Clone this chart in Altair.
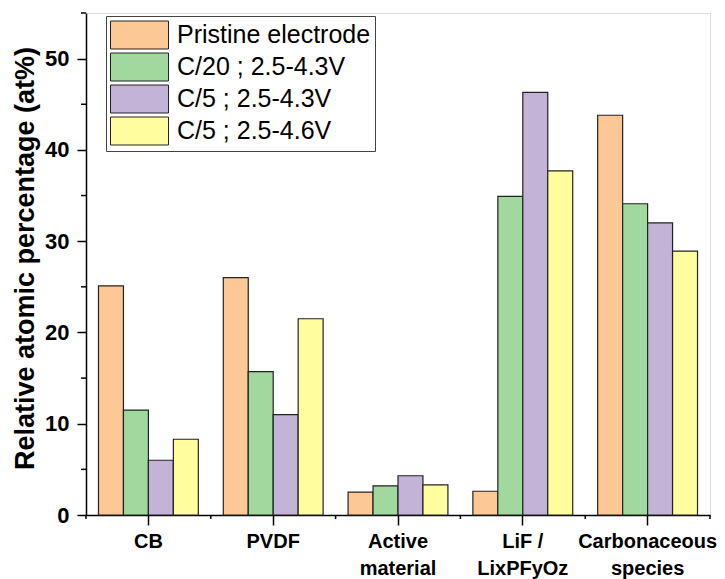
import altair as alt
import pandas as pd

categories = ["CB", "PVDF", "Active\nmaterial", "LiF /\nLixPFyOz", "Carbonaceous\nspecies"]
series = ["Pristine electrode", "C/20 ; 2.5-4.3V", "C/5 ; 2.5-4.3V", "C/5 ; 2.5-4.6V"]
pristine = [25.1, 26.0, 2.5, 2.6, 43.8]
c20_43 = [11.5, 15.7, 3.2, 34.9, 34.1]
c5_43 = [6.0, 11.0, 4.3, 46.3, 32.0]
c5_46 = [8.3, 21.5, 3.3, 37.7, 28.9]
colors = ["#FCC896", "#A0D89E", "#C3B3D7", "#FFFD9E"]
y_major = [0, 10, 20, 30, 40, 50]
y_minor = [5, 15, 25, 35, 45, 55]

rows = []
for s, vals in zip(series, [pristine, c20_43, c5_43, c5_46]):
    for c, v in zip(categories, vals):
        rows.append({"category": c, "series": s, "value": v})
df = pd.DataFrame(rows)

W, H = 624, 502
FONT = "Liberation Sans"

xscale = alt.Scale(domain=categories, paddingInner=0, paddingOuter=0)
yscale = alt.Scale(domain=[0, 55], nice=False, zero=True)

x_axis = alt.Axis(title=None, labelAngle=0, labelFont=FONT, labelFontSize=20,
                  labelFontWeight="bold", labelColor="black",
                  labelExpr="split(datum.label, '\\n')", labelLineHeight=27,
                  labelPadding=6, tickSize=10, tickWidth=1.5, tickColor="black",
                  domainColor="black", domainWidth=1.5, grid=False, labelLimit=300,
                  labelOverlap=False, labelBound=False)
y_axis = alt.Axis(title="Relative atomic percentage (at%)", values=y_major,
                  labelFont=FONT, labelFontSize=22, labelFontWeight="bold",
                  labelColor="black", labelPadding=8, tickSize=9, tickWidth=1.5,
                  tickColor="black", domainColor="black", domainWidth=1.5, grid=False,
                  titleFont=FONT, titleFontSize=27, titleFontWeight="bold",
                  titleColor="black", titleAngle=270, titleAlign="center",
                  titleBaseline="alphabetic", titleX=-53, titleY=245)

bars = alt.Chart(df).mark_bar(stroke="#222222", strokeWidth=1.2).encode(
    x=alt.X("category:N", sort=categories, scale=xscale, axis=x_axis),
    xOffset=alt.XOffset("series:N", sort=series,
                        scale=alt.Scale(domain=series, paddingInner=0, paddingOuter=0.5)),
    y=alt.Y("value:Q", scale=yscale, axis=y_axis),
    color=alt.Color("series:N", sort=series,
                    scale=alt.Scale(domain=series, range=colors),
                    legend=alt.Legend(orient="none", legendX=20, legendY=3, title=None,
                                      symbolType="M-1,-0.9655L3,-0.9655L3,0.9655L-1,0.9655Z",
                                      symbolSize=841, symbolStrokeColor="#222222",
                                      symbolStrokeWidth=1, symbolOpacity=1,
                                      labelFont=FONT, labelFontSize=25, labelColor="black",
                                      labelOffset=37, labelLimit=400,
                                      fillColor="white", strokeColor="#444444",
                                      padding=4, rowPadding=0)),
)

xb = pd.DataFrame({"category": categories})
xb_last = pd.DataFrame({"category": categories[-1:]})
minor_x = alt.Chart(xb).mark_rule(color="black", strokeWidth=1.5).encode(
    x=alt.X("category:N", sort=categories, scale=xscale, bandPosition=0, axis=x_axis),
    y=alt.value(H), y2=alt.value(H + 4))
minor_x_end = alt.Chart(xb_last).mark_rule(color="black", strokeWidth=1.5).encode(
    x=alt.X("category:N", sort=categories, scale=xscale, bandPosition=1, axis=x_axis),
    y=alt.value(H), y2=alt.value(H + 4))

ym = pd.DataFrame({"v": y_minor})
minor_y = alt.Chart(ym).mark_rule(color="black", strokeWidth=1.5).encode(
    y=alt.Y("v:Q", scale=yscale, axis=y_axis),
    x=alt.value(0), x2=alt.value(-5))

chart = alt.layer(bars, minor_x, minor_x_end, minor_y).properties(
    width=W, height=H,
    autosize=alt.AutoSizeParams(type="none"),
    padding={"left": 78, "top": 5, "right": 7, "bottom": 66},
).configure_view(stroke=None).configure(background="white")

chart.save("out.html", embed_options={"renderer": "svg", "actions": False})
